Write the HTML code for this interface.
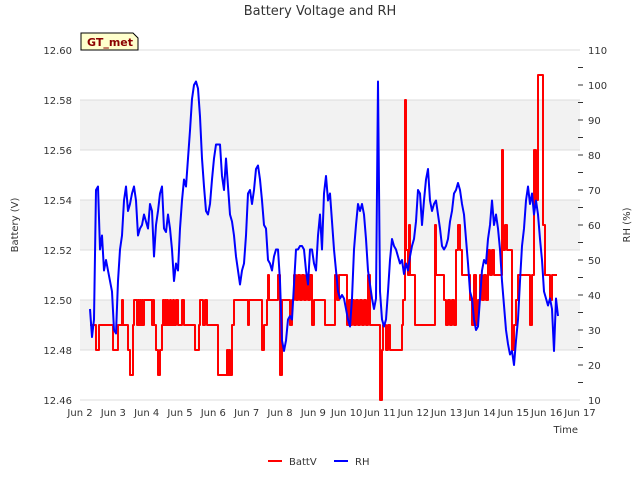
<!DOCTYPE html>
<html><head><meta charset="utf-8"><style>
body{margin:0;background:#fff;font-family:"Liberation Sans","DejaVu Sans",sans-serif}
svg text{font-family:"DejaVu Sans","Liberation Sans",sans-serif}
</style></head><body>
<svg id="c" width="640" height="480" viewBox="0 0 640 480">
<text x="320" y="15" text-anchor="middle" font-size="13" fill="#333">Battery Voltage and RH</text>
<text transform="translate(18,225) rotate(-90)" text-anchor="middle" font-size="10" fill="#333">Battery (V)</text>
<text transform="translate(630,225) rotate(-90)" text-anchor="middle" font-size="10" fill="#333">RH (%)</text>
<text x="578" y="433" text-anchor="end" font-size="10" fill="#333">Time</text>
<g id="bands"></g><g id="axes"></g><g id="series"></g>
<g>
<path d="M81,50 L81,33 L133,33 L138,38 L138,50 Z" fill="#ffffcc" stroke="#000" stroke-width="1"/>
<text x="87" y="46" font-size="11" font-weight="bold" fill="#8b0000">GT_met</text></g>
<g>
<line x1="268" y1="461" x2="282" y2="461" stroke="#f00" stroke-width="2"/>
<text x="289" y="465" font-size="10" fill="#333">BattV</text>
<line x1="334" y1="461" x2="348" y2="461" stroke="#00f" stroke-width="2"/>
<text x="355" y="465" font-size="10" fill="#333">RH</text></g>
</svg>
<script>
const xTickLabels=["Jun 2","Jun 3","Jun 4","Jun 5","Jun 6","Jun 7","Jun 8","Jun 9","Jun 10","Jun 11","Jun 12","Jun 13","Jun 14","Jun 15","Jun 16","Jun 17"];
const yTicks=[12.46,12.48,12.50,12.52,12.54,12.56,12.58,12.60];
const y2Ticks=[10,20,30,40,50,60,70,80,90,100,110];
// days since Jun 2 00:00
const battT=[0.30,.48,.57,.99,1.14,1.26,1.29,1.44,1.50,1.59,1.62,1.71,1.74,1.77,1.80,1.83,1.86,1.89,1.92,2.16,2.19,2.22,2.28,2.34,2.40,2.46,2.49,2.52,2.55,2.58,2.61,2.64,2.70,2.73,2.79,2.82,2.88,2.94,3.06,3.12,3.45,3.57,3.60,3.69,3.75,3.81,4.14,4.41,4.44,4.47,4.50,4.56,4.62,5.04,5.07,5.46,5.52,5.61,5.64,5.67,5.94,6.00,6.06,6.30,6.36,6.42,6.48,6.54,6.60,6.66,6.72,6.78,6.84,6.90,6.96,7.02,7.14,7.35,7.56,7.65,7.71,7.77,8.01,8.07,8.13,8.16,8.22,8.28,8.34,8.40,8.46,8.52,8.58,8.64,8.70,9.00,9.06,9.09,9.18,9.24,9.30,9.66,9.69,9.75,9.78,9.84,9.87,9.90,10.05,10.65,10.68,10.92,10.98,11.04,11.10,11.16,11.22,11.28,11.34,11.40,11.46,11.70,11.76,11.82,11.88,11.94,12.00,12.06,12.12,12.18,12.24,12.30,12.36,12.42,12.54,12.66,12.69,12.75,12.81,12.96,13.02,13.08,13.14,13.50,13.56,13.62,13.68,13.74,13.83,13.89,13.95,14.10,14.16,14.31];
const battV=[12.49,12.48,12.49,12.48,12.49,12.50,12.49,12.48,12.47,12.49,12.50,12.49,12.50,12.49,12.50,12.49,12.50,12.49,12.50,12.49,12.50,12.49,12.48,12.47,12.48,12.49,12.50,12.49,12.50,12.49,12.50,12.49,12.50,12.49,12.50,12.49,12.50,12.49,12.50,12.49,12.48,12.49,12.50,12.49,12.50,12.49,12.47,12.48,12.47,12.48,12.47,12.49,12.50,12.49,12.50,12.48,12.49,12.50,12.51,12.50,12.51,12.47,12.50,12.49,12.50,12.51,12.50,12.51,12.50,12.51,12.50,12.51,12.50,12.51,12.49,12.50,12.50,12.49,12.49,12.51,12.50,12.51,12.49,12.50,12.49,12.50,12.49,12.50,12.49,12.50,12.49,12.50,12.49,12.51,12.49,12.46,12.48,12.49,12.48,12.49,12.48,12.49,12.50,12.58,12.52,12.51,12.53,12.51,12.49,12.53,12.51,12.50,12.49,12.50,12.49,12.50,12.49,12.52,12.53,12.52,12.51,12.50,12.49,12.51,12.49,12.50,12.51,12.50,12.51,12.50,12.52,12.51,12.52,12.51,12.51,12.56,12.52,12.53,12.52,12.48,12.49,12.50,12.51,12.49,12.51,12.56,12.54,12.59,12.59,12.53,12.51,12.50,12.51,12.51];
const rhStart=0.30, rhStep=0.06;
const rhV=[36,28,33,70,71,53,57,47,50,47,44,41,30,29,44,53,57,67,71,64,66,69,71,67,57,59,60,63,61,59,66,64,51,60,64,69,71,59,58,63,59,53,44,49,47,59,67,73,71,79,87,96,100,101,99,91,79,71,64,63,66,73,79,83,83,83,74,70,79,71,63,61,57,51,47,43,47,49,57,69,70,66,70,76,77,73,67,60,59,50,49,47,51,53,53,44,27,24,27,33,34,33,43,53,53,54,54,53,47,43,53,53,49,47,57,63,53,69,74,67,69,61,53,47,41,39,40,39,36,33,31,39,53,60,66,64,66,63,56,47,43,39,36,39,101,41,33,31,33,41,50,56,54,53,51,49,50,46,49,47,51,54,56,61,70,69,60,67,73,76,67,64,66,67,63,59,54,53,54,56,61,64,69,70,72,70,66,63,56,49,41,39,33,30,31,39,47,50,49,56,60,67,60,63,59,53,44,37,30,26,23,24,20,27,33,44,54,59,67,71,66,69,63,67,63,56,50,41,39,37,39,36,24,39,34];
const NS="http://www.w3.org/2000/svg";
const L=80,R=580,T=50,B=400;
const xS=d=>L+(d)/15*(R-L);
const yS=v=>B-(v-12.46)/0.14*(B-T);
const y2S=v=>B-(v-10)/100*(B-T);
function mk(tag,at,parent){const e=document.createElementNS(NS,tag);for(const k in at)e.setAttribute(k,at[k]);parent.appendChild(e);return e;}
const bands=document.getElementById('bands'),axes=document.getElementById('axes'),series=document.getElementById('series');
[[12.48,12.50],[12.52,12.54],[12.56,12.58]].forEach(b=>{
 const r=mk('rect',{x:L,y:yS(b[1]),width:R-L,height:yS(b[0])-yS(b[1]),fill:'#f2f2f2'},bands);
 
 
});
yTicks.forEach(v=>{
 const g=mk('line',{x1:L,x2:R,y1:yS(v),y2:yS(v),stroke:'#dcdcdc','stroke-width':1},axes);
 
 
 const t=mk('text',{x:L-8,y:yS(v)+4,'text-anchor':'end','font-size':10,fill:'#333'},axes);
 t.textContent=v.toFixed(2);
 
 
});
y2Ticks.forEach(v=>{
 const t=mk('text',{x:R+8,y:y2S(v)+4,'font-size':10,fill:'#333'},axes);
 t.textContent=v;
 
 
});
for(let v=15;v<110;v+=5){const tk=mk('line',{x1:R-2,x2:R+3,y1:y2S(v),y2:y2S(v),stroke:'#333','stroke-width':1},axes);
 
 }
xTickLabels.forEach((s,i)=>{
 const t=mk('text',{x:xS(i),y:416,'text-anchor':'middle','font-size':10,fill:'#333'},axes);
 t.textContent=s;
 
 
});
let pb='';battT.forEach((d,i)=>{const x=xS(d),y=yS(battV[i]);if(i===0)pb+='M'+x+','+y;else pb+=' L'+x+','+yS(battV[i-1])+' L'+x+','+y;});
const pBatt=mk('path',{d:pb,fill:'none',stroke:'#f00','stroke-width':2,'stroke-linejoin':'round'},series);


let pr='';rhV.forEach((v,i)=>{pr+=(i?' L':'M')+xS(rhStart+i*rhStep)+','+y2S(v);});
const pRh=mk('path',{d:pr,fill:'none',stroke:'#00f','stroke-width':2,'stroke-linejoin':'round'},series);


</script>
</body></html>
